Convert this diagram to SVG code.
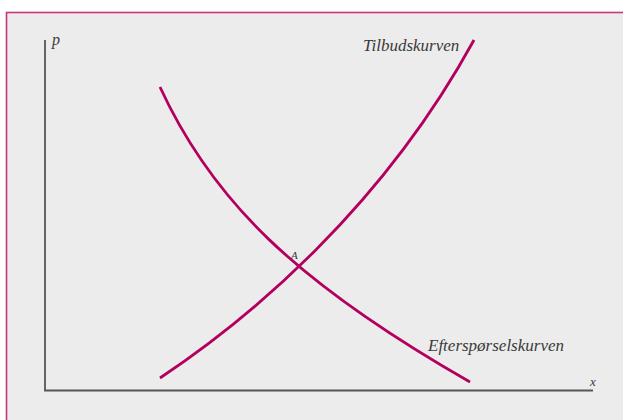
<svg xmlns="http://www.w3.org/2000/svg" width="623" height="420" viewBox="0 0 623 420">
<style>
.lbl{font-family:"Liberation Serif","DejaVu Serif",serif;font-style:italic;fill:#3a3a3a}
.curve{fill:none;stroke:#b3005e;stroke-width:2.8;stroke-linecap:butt}
.axis{fill:none;stroke:#555;stroke-width:1.8}
</style>
<rect x="0" y="0" width="623" height="420" fill="#ffffff"/>
<rect x="6.5" y="12.5" width="640" height="430" fill="#ececec" stroke="#c8357f" stroke-width="1.6"/>
<g id="axes">
<path class="axis" d="M45,40 V390.5 H593"/>
<text class="lbl" x="52" y="45" font-size="16">p</text>
<text class="lbl" x="590" y="386" font-size="13">x</text>
</g>
<g id="connectors">
<path id="demand" class="curve" d="M160,87 C212,200 295,282 470,382"/>
<path id="supply" class="curve" d="M160,378 C250,318 382,208 474,40"/>
</g>
<g id="labels">
<text class="lbl" x="363" y="51" font-size="17">Tilbudskurven</text>
<text class="lbl" x="428" y="351" font-size="17">Efterspørselskurven</text>
<text class="lbl" x="291" y="259" font-size="11">A</text>
</g>
</svg>
